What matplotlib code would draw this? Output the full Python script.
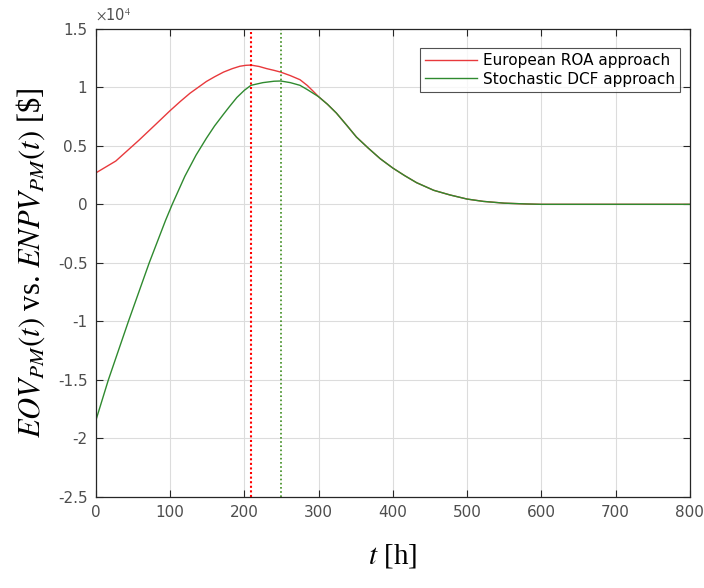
import matplotlib
matplotlib.use("Agg")
import matplotlib.pyplot as plt
from matplotlib.ticker import FuncFormatter

plt.rcParams['axes.unicode_minus'] = False
plt.rcParams['mathtext.fontset'] = 'stix'

# European ROA approach: time [h] and EOV [$]
t_roa = [0, 27, 58, 81, 100, 114, 127, 138, 149, 160, 172, 184, 194, 202, 209, 220, 230,
         240, 249, 262, 275, 285, 293, 300, 312, 324, 338, 351, 367, 383, 400, 416, 432,
         455, 477, 500, 522, 550, 580, 600, 700, 800]
eov = [2680, 3700, 5470, 6850, 8000, 8800, 9500, 10000, 10500, 10900, 11300, 11600, 11800,
       11880, 11900, 11780, 11600, 11450, 11300, 11000, 10650, 10150, 9650, 9200, 8550,
       7800, 6750, 5750, 4800, 3900, 3100, 2450, 1850, 1200, 800, 450, 250, 100, 30, 0,
       0, 0]

# Stochastic DCF approach: time [h] and ENPV [$]
t_dcf = [0, 17, 44, 72, 94, 103, 120, 135, 149, 160, 172, 180, 190, 200, 209, 225, 240,
         249, 262, 275, 285, 295, 300, 312, 324, 338, 351, 367, 383, 400, 416, 432, 455,
         477, 500, 522, 550, 580, 600, 700, 800]
enpv = [-18500, -15000, -10000, -5000, -1370, 0, 2400, 4200, 5650, 6700, 7700, 8350, 9130,
        9740, 10170, 10400, 10520, 10540, 10400, 10170, 9800, 9400, 9200, 8550, 7800, 6750,
        5750, 4800, 3900, 3100, 2450, 1850, 1200, 800, 450, 250, 100, 30, 0, 0, 0]

t_opt_roa = 209
t_opt_dcf = 249

fig = plt.figure(figsize=(7.04, 5.88), dpi=100)
ax = fig.add_axes([0.136, 0.155, 0.844, 0.796])

ax.plot(t_roa, eov, color='#e8393c', lw=1.0, label='European ROA approach')
ax.plot(t_dcf, enpv, color='#2f8a2f', lw=1.0, label='Stochastic DCF approach')
ax.axvline(t_opt_roa, color='#ff0000', lw=1.5, ls=(0, (1, 1.2)))
ax.axvline(t_opt_dcf, color='#3c8c1e', lw=1.2, ls=(0, (1, 1.5)))

ax.set_xlim(0, 800)
ax.set_ylim(-25000, 15000)
ax.set_xticks(range(0, 801, 100))
ax.set_yticks([-25000, -20000, -15000, -10000, -5000, 0, 5000, 10000, 15000])
ax.yaxis.set_major_formatter(FuncFormatter(lambda v, p: '%g' % (v / 1e4)))

ax.grid(True, color='#dcdcdc', lw=0.8)
ax.set_axisbelow(True)
ax.tick_params(direction='in', top=True, right=True, length=5, width=0.8,
               colors='#262626', labelcolor='#4d4d4d', labelsize=11, pad=6)
for s in ax.spines.values():
    s.set_color('#262626')
    s.set_linewidth(0.9)

ax.text(0.0, 1.012, r'$\times$10$^4$', transform=ax.transAxes, fontsize=10.5,
        color='#4d4d4d', ha='left', va='bottom')

ax.set_xlabel(r'$t$ [h]', fontsize=21, family='Liberation Serif', labelpad=16)
ax.set_ylabel(r'$EOV_{PM}(t)$ vs. $ENPV_{PM}(t)$ [\$]', fontsize=22,
              family='Liberation Serif', labelpad=8)

leg = ax.legend(loc='upper right', fontsize=11, frameon=True, fancybox=False,
                edgecolor='#262626', handlelength=3.4, handletextpad=0.4,
                borderpad=0.35, labelspacing=0.25, borderaxespad=0,
                bbox_to_anchor=(0.984, 0.96))
leg.get_frame().set_linewidth(0.8)

fig.savefig('out.png', dpi=100)
